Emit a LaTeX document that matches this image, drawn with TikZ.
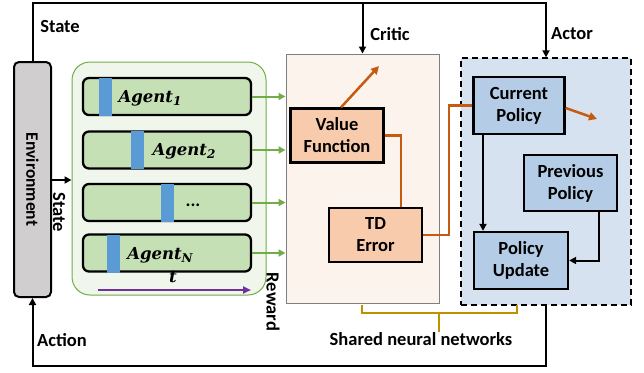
\documentclass[tikz,border=0pt]{standalone}
\usepackage{fontspec}
\setmainfont{Carlito}
\newfontfamily\agentfont{DejaVu Serif}
\usetikzlibrary{arrows.meta,calc}
\definecolor{envgray}{RGB}{208,206,206}
\definecolor{grfill}{RGB}{240,246,236}
\definecolor{grline}{RGB}{112,173,71}
\definecolor{barfill}{RGB}{197,224,180}
\definecolor{mark}{RGB}{91,155,213}
\definecolor{crfill}{RGB}{253,243,237}
\definecolor{crline}{RGB}{127,127,127}
\definecolor{orfill}{RGB}{248,203,173}
\definecolor{orline}{RGB}{197,90,17}
\definecolor{acfill}{RGB}{214,226,239}
\definecolor{pofill}{RGB}{180,204,229}
\definecolor{purp}{RGB}{112,48,160}
\definecolor{gold}{RGB}{191,144,0}
\newcommand{\agsub}[2]{{\agentfont\bfseries\itshape #1\raisebox{-0.22em}{\fontsize{12}{12}\selectfont #2}}}
\tikzset{
  lbl/.style={font=\fontsize{18.5}{22}\selectfont\bfseries, inner sep=0pt},
  elbl/.style={font=\fontsize{17.5}{21}\selectfont\bfseries, inner sep=0pt},
  mlbl/.style={font=\fontsize{16.5}{20}\selectfont, inner sep=0pt},
  envbox/.style={draw=black, line width=2pt, fill=envgray, rounded corners=5pt, minimum width=37pt, minimum height=235pt, inner sep=0pt},
  grbox/.style={draw=grline, line width=1pt, fill=grfill, rounded corners=18pt, minimum width=194pt, minimum height=233pt, inner sep=0pt},
  barbox/.style={draw=black, line width=2.3pt, fill=barfill, rounded corners=6pt, minimum width=168pt, minimum height=37pt, inner sep=0pt},
  markbox/.style={fill=mark, minimum width=13pt, minimum height=38pt, inner sep=0pt},
  crbox/.style={draw=crline, line width=1pt, fill=crfill, minimum width=153pt, minimum height=249pt, inner sep=0pt},
  orbox/.style={draw=black, line width=2.3pt, fill=orfill, minimum width=93pt, minimum height=54pt, inner sep=0pt, align=center, font=\fontsize{18.5}{22}\selectfont\bfseries},
  acbox/.style={draw=black, line width=1.3pt, dash pattern=on 6pt off 4pt, fill=acfill, minimum width=170pt, minimum height=247pt, inner sep=0pt},
  pobox/.style={draw=black, line width=2.3pt, fill=pofill, minimum width=93pt, minimum height=56pt, inner sep=0pt, align=center, font=\fontsize{18.5}{22}\selectfont\bfseries},
  blk/.style={draw=black, line width=2pt},
  blkar/.style={blk, -{Triangle[length=7pt,width=7pt]}},
  grar/.style={draw=grline, line width=2pt, -{Triangle[length=7pt,width=7pt]}},
  orl/.style={draw=orline, line width=2.5pt},
  orar/.style={orl, -{Triangle[length=8pt,width=8pt]}},
}
\begin{document}
\begin{tikzpicture}[x=1pt,y=-1pt]
\useasboundingbox (0,0) rectangle (644,372);
% containers
\node[envbox] (env) at (32.5,179.5) {};
\node[elbl, rotate=-90] (envlbl) at (env.center) {Environment};
\node[grbox] (grp) at (169,178.5) {};
\node[crbox] (critic) at (362.5,178.5) {};
\node[acbox] (actor) at (546,181.5) {};
% agent bars
\node[barbox] (bar1) at (167,96.5) {};
\node[barbox] (bar2) at (167,150) {};
\node[barbox] (bar3) at (167,202.5) {};
\node[barbox] (barN) at (167,253) {};
\node[markbox] (m1) at (105.5,96.5) {};
\node[markbox] (m2) at (137.5,150) {};
\node[markbox] (m3) at (167.5,202.5) {};
\node[markbox] (mN) at (113.5,254) {};
\node[mlbl] (a1) at (150,98) {\agsub{Agent}{1}};
\node[mlbl] (a2) at (184,151) {\agsub{Agent}{2}};
\node[lbl] (a3) at (193,205) {...};
\node[mlbl] (aN) at (160,255) {\agsub{Agent}{N}};
% time arrow
\coordinate (ts) at (98,290);
\coordinate (te) at (251,290);
\draw[draw=purp, line width=2.6pt, -{Triangle[length=8pt,width=7pt]}] (ts) -- (te);
\node[mlbl] (tl) at (173,279) {\agsub{t}{}};
% critic boxes
\node[orbox] (vf) at (337,135.5) {Value\\Function};
\node[orbox] (td) at (375.5,235) {TD\\Error};
% actor boxes
\node[pobox, minimum width=91pt, minimum height=57pt] (cp) at (519,105.5) {Current\\Policy};
\node[pobox] (pp) at (570.5,183) {Previous\\Policy};
\node[pobox, minimum width=94pt, minimum height=57pt] (pu) at (521,260.5) {Policy\\Update};
% top state line
\coordinate (topR) at (546,3);
\draw[blkar] (env.north) |- (topR) -- (actor.north);
\draw[blkar] (critic.north |- topR) -- (critic.north);
\node[lbl] (stateTop) at (60,27) {State};
\node[lbl] (criticLbl) at (390,34) {Critic};
\node[lbl] (actorLbl) at (572,34) {Actor};
% action line
\coordinate (botR) at (546,366);
\draw[blkar] (actor.south) -- (botR) -| (env.south);
\node[lbl] (actionLbl) at (62,340) {Action};
% state into agents
\coordinate (sy) at (0,180);
\draw[blkar] (env.east |- sy) -- (grp.west |- sy);
\node[lbl, rotate=-90] (stateSide) at (59,212) {State};
% green arrows
\foreach \b in {bar1,bar2,bar3,barN}{
  \draw[grar] (\b.east) -- (\b.east -| critic.west);
}
\node[lbl, rotate=-90] (reward) at (273,302) {Reward};
% orange connections
\draw[orl] (vf.east) -| ([xshift=25.5pt]td.north);
\draw[orl] (td.east) -- ++(26,0) |- (cp.west);
\coordinate (vfout) at (379,66);
\draw[orar] ([xshift=4pt]vf.north) -- (vfout);
\coordinate (cpout) at (597,119);
\draw[orar] ([yshift=-2.5pt]cp.east) -- (cpout);
% actor internal
\draw[blkar] ([xshift=-36pt]cp.south) -- ([xshift=-36pt]cp.south |- pu.north);
\draw[blkar] ([xshift=28.5pt]pp.south) |- (pu.east);
% bracket
\coordinate (bl) at (362,305);
\coordinate (br) at (517,305);
\coordinate (bm) at (439,332);
\draw[draw=gold, line width=2pt] (bl) -- (362,313) -- (517,313) -- (br);
\draw[draw=gold, line width=2pt] (bm |- 0,313) -- (bm);
\node[lbl] (shared) at (421,339) {Shared neural networks};
\end{tikzpicture}
\end{document}
